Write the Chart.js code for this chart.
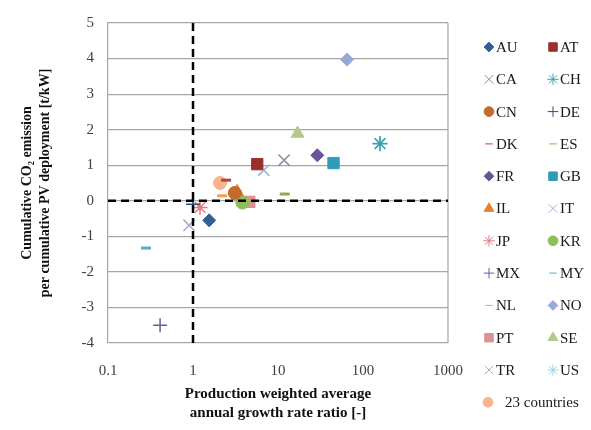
<!DOCTYPE html>
<html>
<head>
<meta charset="UTF-8">
<title>CO2 emission vs growth rate ratio</title>
<style>
    body { margin: 0; background: #fff; }
    #wrap { width: 591px; height: 430px; position: relative; }
</style>
</head>
<body>
<div id="wrap"><canvas id="chart"></canvas></div>
<script src="https://cdn.jsdelivr.net/npm/chart.js"></script>
<script>
// values
const countries = ['AU', 'AT', 'CA', 'CH', 'CN', 'DE', 'DK', 'ES', 'FR', 'GB', 'IL',
                   'IT', 'JP', 'KR', 'MX', 'MY', 'NL', 'NO', 'PT', 'SE', 'TR', 'US', '23 countries'];
const growthRatio = [1.55, 5.7, 11.8, 158, 3.1, 1.0, 2.45, 12, 29, 45, 3.3,
                     6.8, 1.21, 3.8, 0.41, 0.28, 2.2, 65, 4.6, 17, 0.9, 160, 2.08];
const co2PerKw = [-0.55, 1.03, 1.14, 1.61, 0.22, -0.1, 0.58, 0.19, 1.28, 1.06, 0.25,
                  0.86, -0.19, -0.05, -3.5, -1.33, 0.14, 3.97, -0.03, 1.89, -0.69, 1.6, 0.5];
const xTicks = [0.1, 1, 10, 100, 1000];
const yTicks = [-4, -3, -2, -1, 0, 1, 2, 3, 4, 5];

const markers = ['rectRot', 'rect', 'crossRot', 'star', 'circle', 'cross', 'line', 'line', 'rectRot', 'rect', 'triangle',
                 'crossRot', 'star', 'circle', 'cross', 'line', 'line', 'rectRot', 'rect', 'triangle', 'crossRot', 'star', 'circle'];
const colors = ['#2f5f95', '#9b2f2c', '#8c8ca6', '#3f9fae', '#c46a2c', '#2e4d7e', '#b0434c', '#98a84e', '#6a5499', '#2e9bb8', '#e8802c',
                '#9db1dd', '#e07a80', '#8cbf55', '#6a5e9e', '#5ba9cf', '#f0a050', '#97a9db', '#d99294', '#b5c98e', '#b0a6c8', '#9ed3e6', '#f9b48c'];
const sizes = {rectRot: 6.5, rect: 8, crossRot: 8, star: 7.5, circle: 6.5, cross: 7, line: 5, triangle: 7.5};

const serif = '"Liberation Serif", "DejaVu Serif", serif';

const datasets = countries.map((c, i) => ({
    label: c,
    data: [{x: growthRatio[i], y: co2PerKw[i]}],
    pointStyle: markers[i],
    pointRadius: sizes[markers[i]],
    backgroundColor: colors[i],
    borderColor: colors[i],
    borderWidth: (markers[i] == 'line') ? 3 : (['cross', 'crossRot', 'star'].includes(markers[i]) ? 1.5 : 1)
}));

// reference lines x = 1 and y = 0
datasets.push({
    label: 'x1', data: [{x: 1, y: -4}, {x: 1, y: 5}], showLine: true, order: -1,
    borderColor: '#000', borderWidth: 2.5, borderDash: [8, 5], pointRadius: 0
});
datasets.push({
    label: 'y0', data: [{x: 0.1, y: 0}, {x: 1000, y: 0}], showLine: true, order: -1,
    borderColor: '#000', borderWidth: 2.5, borderDash: [8, 5], pointRadius: 0
});

const frame = {
    id: 'frame',
    beforeDatasetsDraw(chart) {
        const a = chart.chartArea, ctx = chart.ctx;
        ctx.save();
        ctx.strokeStyle = '#a6a6a6';
        ctx.lineWidth = 1.2;
        ctx.beginPath();
        ctx.moveTo(a.right, a.top);
        ctx.lineTo(a.right, a.bottom);
        ctx.stroke();
        ctx.restore();
    }
};

const legendBox = {
    id: 'legendBox',
    afterDraw(chart) {
        const ctx = chart.ctx;
        ctx.save();
        ctx.font = '15px ' + serif;
        ctx.textBaseline = 'middle';
        ctx.textAlign = 'left';
        for (let i = 0; i < countries.length; i++) {
            let row = Math.floor(i / 2), col = i % 2;
            let mx = col ? 553 : 489, tx = mx + 7;
            if (i == countries.length - 1) { row = 11; mx = 488; tx = 505; }
            const y = 47 + row * 32.3;
            ctx.fillStyle = colors[i];
            ctx.strokeStyle = colors[i];
            Chart.helpers.drawPoint(ctx, {
                pointStyle: markers[i],
                radius: sizes[markers[i]] * 0.75,
                rotation: 0,
                borderWidth: markers[i] == 'line' ? 2.5 : 1.3
            }, mx, y);
            ctx.fillStyle = '#1a1a1a';
            ctx.fillText(countries[i], tx, y + 1);
        }
        ctx.restore();
    }
};

new Chart(document.getElementById('chart'), {
    type: 'scatter',
    data: {datasets: datasets},
    options: {
        responsive: true,
        maintainAspectRatio: false,
        animation: false,
        layout: {padding: {top: 18, right: 143, left: 0, bottom: 0}},
        plugins: {legend: {display: false}, tooltip: {enabled: false}},
        scales: {
            x: {
                type: 'logarithmic',
                min: 0.1, max: 1000,
                afterBuildTicks: s => { s.ticks = xTicks.map(v => ({value: v})); },
                afterFit: s => { s.height = 87; },
                grid: {display: false, drawTicks: false},
                border: {display: false},
                ticks: {
                    padding: 19, color: '#404040', font: {family: serif, size: 15},
                    callback: v => String(v)
                },
                title: {
                    display: true,
                    text: ['Production weighted average', 'annual growth rate ratio [-]'],
                    color: '#111', font: {family: serif, size: 15, weight: 'bold', lineHeight: 1.25},
                    padding: {top: 0, bottom: 8}
                }
            },
            y: {
                min: -4, max: 5,
                afterBuildTicks: s => { s.ticks = yTicks.map(v => ({value: v})); },
                afterFit: s => { s.width = 108; },
                grid: {color: '#a6a6a6', lineWidth: 1.2, drawTicks: false},
                border: {display: true, color: '#a6a6a6', width: 1.2},
                ticks: {padding: 14, color: '#404040', font: {family: serif, size: 15}},
                title: {
                    display: true,
                    text: ['Cumulative CO\u2082 emission', 'per cumulative PV deployment [t/kW]'],
                    color: '#111', font: {family: serif, size: 14, weight: 'bold', lineHeight: 1.25},
                    padding: {top: 19, bottom: 0}
                }
            }
        }
    },
    plugins: [frame, legendBox]
});
</script>
</body>
</html>
